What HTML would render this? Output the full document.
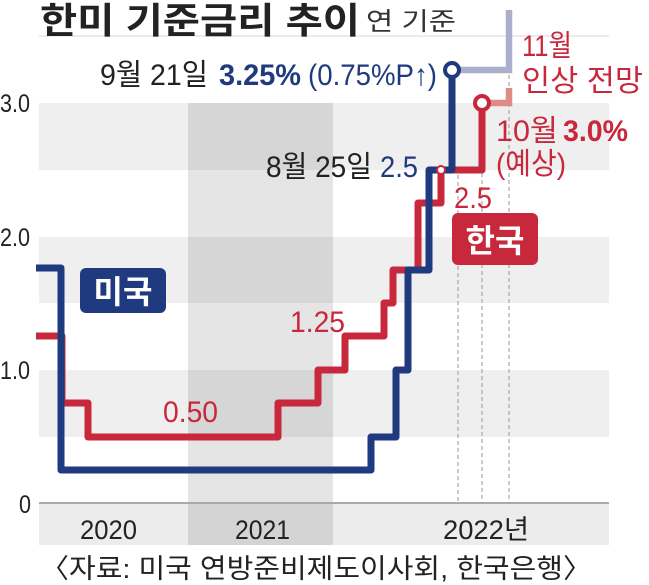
<!DOCTYPE html>
<html><head><meta charset="utf-8"><style>
html,body{margin:0;padding:0;background:#fff;}
svg{display:block;}
text{font-family:"Liberation Sans","Noto Sans CJK KR",sans-serif;}
</style></head><body>
<svg width="649" height="585" viewBox="0 0 649 585" xmlns="http://www.w3.org/2000/svg">
<line x1="39" y1="36" x2="609" y2="36" stroke="#e6e6e6" stroke-width="1.5"/>
<rect x="39" y="103" width="570" height="67" fill="#efefef"/>
<rect x="39" y="237" width="570" height="66" fill="#efefef"/>
<rect x="39" y="370" width="570" height="67" fill="#efefef"/>
<rect x="39" y="504" width="570" height="41" fill="#ececec"/>
<rect x="188" y="103" width="145" height="442" fill="#000" fill-opacity="0.1"/>
<line x1="39" y1="503" x2="609" y2="503" stroke="#aaa" stroke-width="2"/>
<g stroke="#999" stroke-width="1" stroke-dasharray="4,3">
<line x1="458" y1="175" x2="458" y2="503"/>
<line x1="482" y1="110" x2="482" y2="503"/>
<line x1="509" y1="75" x2="509" y2="503"/>
</g>
<g font-size="25" fill="#222">
<text x="0" y="112" textLength="30" lengthAdjust="spacingAndGlyphs">3.0</text>
<text x="0" y="246" textLength="30" lengthAdjust="spacingAndGlyphs">2.0</text>
<text x="0" y="379" textLength="30" lengthAdjust="spacingAndGlyphs">1.0</text>
<text x="19" y="513" textLength="12" lengthAdjust="spacingAndGlyphs">0</text>
</g>
<polyline points="452,70 509,70 509,10" fill="none" stroke="#aab0cc" stroke-width="6.5"/>
<polyline points="482,103 509,103 509,88" fill="none" stroke="#e08a86" stroke-width="6.5"/>
<polyline points="36,336 62,336 62,403 88,403 88,437 278,437 278,403 318,403 318,370 345,370 345,336 384,336 384,303 393,303 393,270 418,270 418,203 441,203 441,170 482,170 482,103" fill="none" stroke="#c8283c" stroke-width="7" stroke-linejoin="round"/>
<polyline points="36,268 61,268 61,470 371,470 371,437 396,437 396,370 408,370 408,270 429,270 429,170 452,170 452,70" fill="none" stroke="#1f3a7e" stroke-width="7" stroke-linejoin="round"/>
<circle cx="452" cy="70" r="7" fill="#fff" stroke="#1f3a7e" stroke-width="4"/>
<circle cx="482" cy="103" r="7" fill="#fff" stroke="#c8283c" stroke-width="4"/>
<circle cx="441" cy="170" r="4" fill="#fff" stroke="#c8283c" stroke-width="2"/>
<text x="40" y="33" font-size="36" font-weight="bold" fill="#222" textLength="320" lengthAdjust="spacingAndGlyphs">한미 기준금리 추이</text>
<text x="366" y="30" font-size="25" fill="#333" textLength="90" lengthAdjust="spacingAndGlyphs">연 기준</text>
<text x="100" y="85" font-size="30" fill="#222" textLength="108" lengthAdjust="spacingAndGlyphs">9월 21일</text>
<text x="219" y="85" font-size="30" font-weight="bold" fill="#1f3a7e" textLength="82" lengthAdjust="spacingAndGlyphs">3.25%</text>
<text x="308" y="85" font-size="30" fill="#1f3a7e" textLength="129" lengthAdjust="spacingAndGlyphs">(0.75%P↑)</text>
<text x="522" y="56" font-size="30" fill="#c8283c" textLength="50" lengthAdjust="spacingAndGlyphs">11월</text>
<text x="522" y="91" font-size="30" fill="#c8283c" textLength="121" lengthAdjust="spacingAndGlyphs">인상 전망</text>
<text x="496" y="141" font-size="30" fill="#c8283c" textLength="62" lengthAdjust="spacingAndGlyphs">10월</text>
<text x="563" y="141" font-size="30" font-weight="bold" fill="#c8283c" textLength="65" lengthAdjust="spacingAndGlyphs">3.0%</text>
<text x="496" y="174" font-size="30" fill="#c8283c" textLength="70" lengthAdjust="spacingAndGlyphs">(예상)</text>
<text x="266" y="177" font-size="30" fill="#222" textLength="106" lengthAdjust="spacingAndGlyphs">8월 25일</text>
<text x="380" y="177" font-size="30" fill="#1f3a7e" textLength="38" lengthAdjust="spacingAndGlyphs">2.5</text>
<text x="454" y="208" font-size="30" fill="#c8283c" textLength="38" lengthAdjust="spacingAndGlyphs">2.5</text>
<text x="290" y="332" font-size="30" fill="#c8283c" textLength="55" lengthAdjust="spacingAndGlyphs">1.25</text>
<text x="163" y="422" font-size="30" fill="#c8283c" textLength="55" lengthAdjust="spacingAndGlyphs">0.50</text>
<rect x="452" y="213" width="86" height="52" rx="6" fill="#c8283c"/>
<text x="495" y="252" font-size="32" font-weight="bold" fill="#fff" text-anchor="middle">한국</text>
<rect x="80" y="268" width="86" height="45" rx="6" fill="#1f3a7e"/>
<text x="123" y="303" font-size="32" font-weight="bold" fill="#fff" text-anchor="middle">미국</text>
<g font-size="27" fill="#222">
<text x="80" y="539" textLength="57" lengthAdjust="spacingAndGlyphs">2020</text>
<text x="235" y="539" textLength="55" lengthAdjust="spacingAndGlyphs">2021</text>
<text x="443" y="539" textLength="86" lengthAdjust="spacingAndGlyphs">2022년</text>
</g>
<text x="40" y="578" font-size="27" fill="#222" textLength="552" lengthAdjust="spacingAndGlyphs">〈자료: 미국 연방준비제도이사회, 한국은행〉</text>
</svg>
</body></html>
